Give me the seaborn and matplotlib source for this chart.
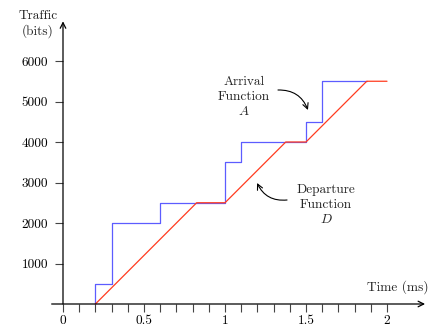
import matplotlib
matplotlib.use("Agg")
import matplotlib.pyplot as plt
import seaborn as sns

# arrival (blue step) and departure (red) curves
arr_t = [0.2, 0.2, 0.3, 0.6, 1.0, 1.1, 1.5, 1.6, 1.875]
arr_bits = [0, 500, 2000, 2500, 3500, 4000, 4500, 5500, 5500]
dep_t = [0.2, 0.825, 1.0, 1.375, 1.5, 1.875, 2.0]
dep_bits = [0, 2500, 2500, 4000, 4000, 5500, 5500]

x_major = [0, 0.5, 1, 1.5, 2]
x_minor = [i / 10 for i in range(0, 21)]
y_major = [1000, 2000, 3000, 4000, 5000, 6000]

sns.set_style("white")
plt.rcParams["font.family"] = ["cmr10", "DejaVu Serif"]
plt.rcParams["mathtext.fontset"] = "cm"
plt.rcParams["axes.formatter.use_mathtext"] = True

FS = 9.6

fig = plt.figure(figsize=(4.32, 3.29), dpi=100)
ax = fig.add_axes([0, 0, 1, 1])
ax.set_xlim(-63 / 162, 432 / 162 - 63 / 162)
ax.set_ylim(-25 / 40.5 * 1000, 304 / 40.5 * 1000)

sns.lineplot(x=arr_t, y=arr_bits, sort=False, estimator=None, drawstyle="steps-post",
             color="#5c5cff", lw=0.9, ax=ax)
sns.lineplot(x=dep_t, y=dep_bits, sort=False, estimator=None,
             color="#ff3b1f", lw=0.9, ax=ax)

# axes as arrows through the origin
for s in ["top", "right", "left", "bottom"]:
    ax.spines[s].set_visible(False)
ax.spines["left"].set_position(("data", 0))
ax.spines["bottom"].set_position(("data", 0))
ax.annotate("", xy=(2.235, 0), xytext=(-0.07, 0),
            arrowprops=dict(arrowstyle="->", color="black", lw=0.9, shrinkA=0, shrinkB=0))
ax.annotate("", xy=(0, 6980), xytext=(0, 0),
            arrowprops=dict(arrowstyle="->", color="black", lw=0.9, shrinkA=0, shrinkB=0))

ax.set_xticks(x_major)
ax.set_xticklabels(["0", "0.5", "1", "1.5", "2"])
ax.set_xticks(x_minor, minor=True)
ax.set_yticks(y_major)
ax.set_yticklabels([str(v) for v in y_major])
ax.tick_params(axis="both", which="both", direction="out", length=5.8, width=0.8,
               colors="#444444", labelcolor="black", labelsize=FS)
ax.tick_params(axis="x", which="both", bottom=True, pad=2)
ax.tick_params(axis="y", which="both", left=True, pad=5)

ax.text(-0.154, 6914, "Traffic\n(bits)", ha="center", va="center", fontsize=FS, linespacing=1.2)
ax.text(2.068, 420, "Time (ms)", ha="center", va="center", fontsize=FS)

ax.text(1.117, 5111, "Arrival\nFunction\n$A$", ha="center", va="center", fontsize=FS, linespacing=1.25)
ax.annotate("", xy=(1.512, 4790), xytext=(1.327, 5284),
            arrowprops=dict(arrowstyle="->", color="black", lw=0.8,
                            connectionstyle="arc3,rad=-0.35", shrinkA=0, shrinkB=0))
ax.text(1.623, 2444, "Departure\nFunction\n$D$", ha="center", va="center", fontsize=FS, linespacing=1.25)
ax.annotate("", xy=(1.198, 2988), xytext=(1.383, 2568),
            arrowprops=dict(arrowstyle="->", color="black", lw=0.8,
                            connectionstyle="arc3,rad=-0.35", shrinkA=0, shrinkB=0))

fig.savefig("out.png", dpi=100)
